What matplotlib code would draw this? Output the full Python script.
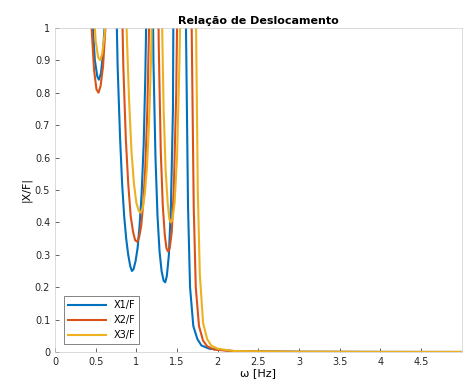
import matplotlib.pyplot as plt

# frequency axis points and amplitudes (values > 1 are clipped)
w_blue = [0.0, 0.15, 0.25, 0.31, 0.355, 0.40, 0.43, 0.46, 0.49, 0.52, 0.54, 0.565, 0.59,
          0.62, 0.65, 0.68, 0.70, 0.72, 0.74, 0.77, 0.80, 0.825, 0.85, 0.875, 0.90,
          0.925, 0.945, 0.965, 0.99, 1.015, 1.04, 1.065, 1.09, 1.11, 1.13, 1.165,
          1.19, 1.21, 1.235, 1.26, 1.285, 1.31, 1.335, 1.355, 1.375, 1.40, 1.425,
          1.45, 1.48, 1.53, 1.58, 1.61, 1.635, 1.66, 1.70, 1.75, 1.80, 1.90, 2.2,
          3.0, 4.0, 5.0]
a_blue = [1.5, 1.9, 2.6, 4.0, 6.0, 2.0, 1.3, 1.02, 0.9, 0.85, 0.84, 0.86, 0.92,
          1.05, 1.4, 2.5, 8.0, 2.0, 1.25, 0.88, 0.66, 0.52, 0.42, 0.35, 0.30,
          0.265, 0.25, 0.255, 0.28, 0.32, 0.39, 0.49, 0.64, 0.85, 1.15, 4.0,
          1.4, 0.9, 0.6, 0.42, 0.31, 0.25, 0.22, 0.215, 0.235, 0.30, 0.45,
          0.75, 2.5, 5.0, 2.0, 1.0, 0.45, 0.2, 0.08, 0.04, 0.02, 0.01, 0.003,
          0.0008, 0.0003, 0.0001]

w_orange = [0.0, 0.15, 0.25, 0.30, 0.345, 0.39, 0.42, 0.45, 0.48, 0.51, 0.535, 0.56, 0.59,
            0.62, 0.66, 0.70, 0.73, 0.76, 0.785, 0.81, 0.84, 0.87, 0.90, 0.93,
            0.96, 0.985, 1.01, 1.035, 1.06, 1.085, 1.11, 1.135, 1.16, 1.19, 1.225,
            1.25, 1.275, 1.30, 1.325, 1.35, 1.37, 1.39, 1.41, 1.435, 1.46, 1.49,
            1.52, 1.56, 1.605, 1.65, 1.68, 1.705, 1.73, 1.77, 1.82, 1.87, 1.95, 2.2,
            3.0, 4.0, 5.0]
a_orange = [1.6, 2.0, 2.8, 4.5, 7.0, 2.0, 1.3, 1.0, 0.87, 0.81, 0.80, 0.82, 0.88,
            1.0, 1.3, 2.2, 3.5, 7.0, 2.0, 1.25, 0.88, 0.66, 0.52, 0.42,
            0.37, 0.345, 0.34, 0.355, 0.39, 0.46, 0.57, 0.75, 1.05, 1.6, 5.0,
            1.6, 0.95, 0.62, 0.45, 0.36, 0.32, 0.31, 0.32, 0.37, 0.5, 0.8,
            1.4, 2.6, 6.0, 2.2, 1.0, 0.45, 0.2, 0.08, 0.035, 0.018, 0.008, 0.002,
            0.0006, 0.0002, 0.0001]

w_yellow = [0.0, 0.15, 0.25, 0.31, 0.36, 0.41, 0.44, 0.47, 0.50, 0.53, 0.555, 0.58, 0.61,
            0.64, 0.68, 0.72, 0.76, 0.80, 0.825, 0.85, 0.88, 0.91, 0.94, 0.97,
            1.0, 1.03, 1.055, 1.08, 1.105, 1.13, 1.155, 1.18, 1.21, 1.26,
            1.285, 1.31, 1.335, 1.36, 1.385, 1.405, 1.425, 1.445, 1.47, 1.50, 1.53,
            1.57, 1.61, 1.66, 1.70, 1.73, 1.755, 1.78, 1.82, 1.87, 1.92, 2.0, 2.2,
            3.0, 4.0, 5.0]
a_yellow = [1.7, 2.1, 3.0, 5.0, 7.0, 2.0, 1.35, 1.08, 0.96, 0.91, 0.90, 0.92, 0.98,
            1.1, 1.45, 2.4, 4.0, 7.0, 2.2, 1.4, 1.0, 0.78, 0.62, 0.52,
            0.46, 0.435, 0.43, 0.445, 0.49, 0.57, 0.7, 0.9, 1.3, 5.0,
            1.8, 1.1, 0.75, 0.56, 0.46, 0.41, 0.40, 0.41, 0.46, 0.6, 0.9,
            1.5, 3.0, 6.0, 2.5, 1.1, 0.5, 0.24, 0.09, 0.04, 0.02, 0.01, 0.003,
            0.0008, 0.0003, 0.0001]

labels = ["X1/F", "X2/F", "X3/F"]
colors = ["#0072BD", "#D95319", "#EDB120"]

fig = plt.figure(figsize=(4.66, 3.92), dpi=100)
ax = fig.add_axes([0.118, 0.102, 0.873, 0.827])

ax.plot(w_blue, a_blue, color=colors[0], lw=1.5, label=labels[0])
ax.plot(w_orange, a_orange, color=colors[1], lw=1.5, label=labels[1])
ax.plot(w_yellow, a_yellow, color=colors[2], lw=1.5, label=labels[2])

ax.set_xlim(0, 5)
ax.set_ylim(0, 1)
ax.set_xticks([0, 0.5, 1, 1.5, 2, 2.5, 3, 3.5, 4, 4.5])
ax.set_xticklabels(["0", "0.5", "1", "1.5", "2", "2.5", "3", "3.5", "4", "4.5"])
ax.set_yticks([0, 0.1, 0.2, 0.3, 0.4, 0.5, 0.6, 0.7, 0.8, 0.9, 1])
ax.set_yticklabels(["0", "0.1", "0.2", "0.3", "0.4", "0.5", "0.6", "0.7", "0.8", "0.9", "1"])
ax.tick_params(labelsize=7, length=3, width=0.5, colors="0.15", direction="in")
for s in ax.spines.values():
    s.set_color("0.8")
    s.set_linewidth(0.5)

ax.set_xlabel("ω [Hz]", fontsize=8, labelpad=1)
ax.set_ylabel("|X/F|", fontsize=8, labelpad=2)
ax.set_title("Relação de Deslocamento", fontsize=8, fontweight="bold", pad=3)

leg = ax.legend(loc="lower left", bbox_to_anchor=(0.01, 0.01), fontsize=7,
                handlelength=3.9, borderpad=0.4, labelspacing=0.5, fancybox=False)
leg.get_frame().set_edgecolor("0.15")
leg.get_frame().set_linewidth(0.5)

plt.savefig("out.png")
